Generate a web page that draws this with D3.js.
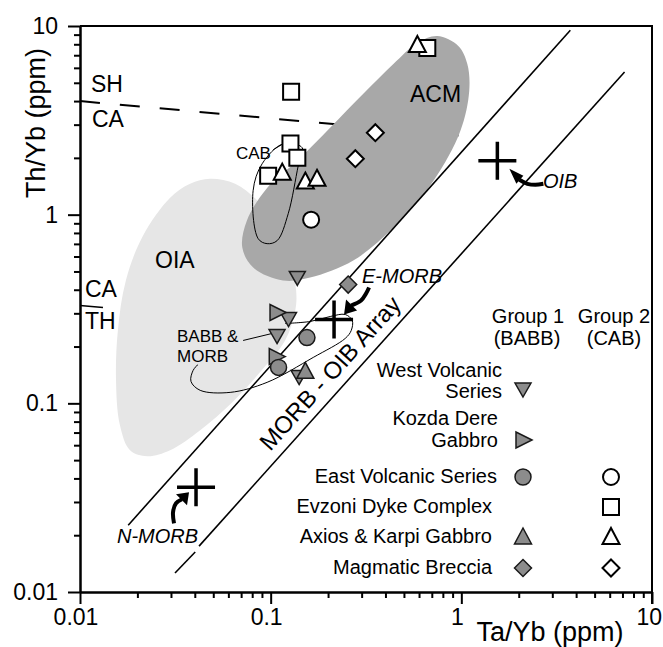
<!DOCTYPE html>
<html>
<head>
<meta charset="utf-8">
<script src="https://cdn.jsdelivr.net/npm/d3@7/dist/d3.min.js"></script>
<style>
body{margin:0;background:#fff;}
svg{display:block;font-family:"Liberation Sans",Arial,Helvetica,sans-serif;}
</style>
</head>
<body>
<svg id="chart" width="663" height="647"></svg>
<script>
// Th/Yb vs Ta/Yb discrimination plot
var xTicks = [0.01, 0.1, 1, 10],
    yTicks = [0.01, 0.1, 1, 10];

// Group 2 (CAB) - open symbols
var evzoniOpen = [[0.128,4.48],[0.127,2.38],[0.138,2.0],[0.097,1.61],[0.663,7.65]];
var axiosOpen = [[0.115,1.65],[0.152,1.48],[0.175,1.53],[0.588,7.84]];
var eastOpen = [[0.163,0.94]];
var brecciaOpen = [[0.354,2.72],[0.278,1.98]];

// Group 1 (BABB) - grey symbols
var westGrey = [[0.138,0.459],[0.124,0.278],[0.108,0.226],[0.141,0.137]];
var kozdaGrey = [[0.108,0.303],[0.107,0.177]];
var eastGrey = [[0.155,0.223],[0.110,0.155]];
var axiosGrey = [[0.152,0.146]];
var brecciaGrey = [[0.255,0.426]];

// reference compositions
var refNames = ["OIB","E-MORB","N-MORB"],
    refTaYb = [1.545, 0.215, 0.0406],
    refThYb = [1.93, 0.278, 0.0359];

// fields
var oiaField = [[0.0481,1.55],[0.0651,1.46],[0.0849,1.19],[0.1056,0.875],[0.124,0.607],[0.136,0.396],
  [0.1345,0.31],[0.119,0.215],[0.090,0.150],[0.0628,0.101],[0.0427,0.072],[0.0297,0.0564],[0.0225,0.0524],
  [0.0183,0.0564],[0.0162,0.0765],[0.01545,0.132],[0.0158,0.243],[0.0174,0.448],[0.0214,0.774],[0.0297,1.23],[0.0378,1.46]];
var acmField = [[0.748,8.85],[0.964,7.84],[1.075,6.29],[1.10,4.53],[0.988,2.78],[0.713,1.51],[0.44,0.854],
  [0.271,0.571],[0.161,0.464],[0.116,0.448],[0.081,0.525],[0.071,0.669],[0.075,0.929],[0.096,1.39],
  [0.138,1.93],[0.205,2.89],[0.306,4.37],[0.44,6.29],[0.588,8.13]];
var cabOutline = [[0.1163,2.375],[0.1464,2.262],[0.1395,1.817],[0.1236,1.012],[0.1082,0.729],[0.0958,0.702],
  [0.086,0.746],[0.0809,1.34],[0.0902,1.861]];
var cabLeader = [[0.1031,2.208],[0.1163,2.375]];
var babbOutline = [[0.1191,0.265],[0.1612,0.2716],[0.2053,0.2886],[0.246,0.2957],[0.2678,0.275],[0.2646,0.2434],
  [0.246,0.2208],[0.1672,0.1751],[0.0958,0.1292],[0.0613,0.1143],[0.0427,0.1172],[0.0382,0.1307],[0.0392,0.1495],[0.0416,0.1608]];
var babbLeader = [[0.0717,0.2154],[0.1018,0.2346]];

// lines
var morbUpper = [[0.0179,0.0226],[3.73,9.5]];
var morbLowerA = [[0.0315,0.0126],[0.0402,0.0163]];
var morbLowerB = [[0.0421,0.0175],[7.18,5.71]];
var shcaLine = [[0.01,4.0],[1.01,2.62]];
var cathLine = [[0.01,0.33],[0.0132,0.322]];

var svg = d3.select("#chart");
var x = d3.scaleLog().domain([0.01,10]).range([80,652]);
var y = d3.scaleLog().domain([0.01,10]).range([592,26]);

var line = d3.line().x(function(d){return x(d[0]);}).y(function(d){return y(d[1]);});
var blob = d3.line().x(function(d){return x(d[0]);}).y(function(d){return y(d[1]);})
  .curve(d3.curveCatmullRomClosed.alpha(0.5));
var curve = d3.line().x(function(d){return x(d[0]);}).y(function(d){return y(d[1]);})
  .curve(d3.curveCatmullRom.alpha(0.5));

// fields
svg.append("path").attr("d", blob(oiaField)).attr("fill", "#e6e6e6");
svg.append("path").attr("d", line(shcaLine)).attr("fill","none").attr("stroke","#000")
  .attr("stroke-width",2).attr("stroke-dasharray","20,20");
svg.append("path").attr("d", blob(acmField)).attr("fill", "#a8a8a8");
svg.append("path").attr("d", line(cathLine)).attr("fill","none").attr("stroke","#000").attr("stroke-width",1.5);

[morbUpper, morbLowerA, morbLowerB].forEach(function(l){
  svg.append("path").attr("d", line(l)).attr("fill","none").attr("stroke","#000").attr("stroke-width",1.6);
});

svg.append("path").attr("d", blob(cabOutline)).attr("fill","none").attr("stroke","#000").attr("stroke-width",1);
svg.append("path").attr("d", line(cabLeader)).attr("fill","none").attr("stroke","#000").attr("stroke-width",1);
svg.append("path").attr("d", curve(babbOutline)).attr("fill","none").attr("stroke","#000").attr("stroke-width",1);
svg.append("path").attr("d", line(babbLeader)).attr("fill","none").attr("stroke","#000").attr("stroke-width",1);

// reference crosses
refNames.forEach(function(n,i){
  var cx = x(refTaYb[i]), cy = y(refThYb[i]);
  svg.append("path").attr("d","M"+(cx-19)+","+cy+"H"+(cx+19)+"M"+cx+","+(cy-19)+"V"+(cy+19))
    .attr("stroke","#000").attr("stroke-width",3.5).attr("fill","none");
});

// curved arrows (offsets from each cross)
var arrowGeom = {
  "OIB":    {head:[[12,8],[26,15],[19,23]], tail:[[22,19],[30,23],[38,24],[46,23]]},
  "E-MORB": {head:[[10,-5],[12,-20],[23,-9]], tail:[[17,-14],[27,-19],[32,-26],[35,-32]]},
  "N-MORB": {head:[[-7,5],[-20,7],[-9,18]], tail:[[-14,12],[-20,16],[-23,25],[-22,36]]}
};
refNames.forEach(function(n,i){
  var cx = x(refTaYb[i]), cy = y(refThYb[i]), g = arrowGeom[n];
  var pts = function(a){return a.map(function(p){return [cx+p[0],cy+p[1]];});};
  svg.append("path").attr("d", d3.line().curve(d3.curveCatmullRom)(pts(g.tail)))
    .attr("fill","none").attr("stroke","#000").attr("stroke-width",4);
  svg.append("path").attr("d", "M"+pts(g.head).join("L")+"Z").attr("fill","#000");
});

// symbols
function sym(type){
  switch(type){
    case "square": return "M-8,-8H8V8H-8Z";
    case "circle": return "M8,0A8,8 0 1,1 -8,0A8,8 0 1,1 8,0Z";
    case "up": return "M0,-10L8.5,6L-8.5,6Z";
    case "down": return "M0,7L8,-7L-8,-7Z";
    case "right": return "M9,0L-7,-8L-7,8Z";
    case "diamond": return "M0,-8.5L8.5,0L0,8.5L-8.5,0Z";
  }
}
function drawPts(data, type, grey){
  svg.selectAll(null).data(data).enter().append("path")
    .attr("transform", function(d){return "translate("+x(d[0])+","+y(d[1])+")";})
    .attr("d", sym(type))
    .attr("fill", grey ? "#8c8c8c" : "#fff")
    .attr("stroke", grey ? "#1a1a1a" : "#000")
    .attr("stroke-width", grey ? 1.5 : 2);
}
drawPts(evzoniOpen, "square", false);
drawPts(axiosOpen, "up", false);
drawPts(eastOpen, "circle", false);
drawPts(brecciaOpen, "diamond", false);
drawPts(westGrey, "down", true);
drawPts(kozdaGrey, "right", true);
drawPts(eastGrey, "circle", true);
drawPts(axiosGrey, "up", true);
drawPts(brecciaGrey, "diamond", true);

// axes
var minor = [];
[0.01,0.1,1].forEach(function(d){ for (var k=2;k<10;k++) minor.push(d*k); });

svg.append("g").attr("transform","translate(0,592)")
  .call(d3.axisBottom(x).tickValues(xTicks).tickSize(12).tickSizeOuter(0).tickFormat(""));
svg.append("g").attr("transform","translate(0,592)")
  .call(d3.axisBottom(x).tickValues(minor).tickSize(6).tickSizeOuter(0).tickFormat(""));
svg.append("g").attr("transform","translate(80,0)")
  .call(d3.axisLeft(y).tickValues(yTicks).tickSize(12).tickSizeOuter(0).tickFormat(""));
svg.append("g").attr("transform","translate(80,0)")
  .call(d3.axisLeft(y).tickValues(minor).tickSize(6).tickSizeOuter(0).tickFormat(""));
svg.selectAll(".domain").attr("stroke-width",2);
svg.selectAll(".tick line").attr("stroke-width",2);

// frame top / right
svg.append("path").attr("d","M"+x(0.01)+","+y(10)+"H"+x(10)+"V"+(y(0.01)+12))
  .attr("fill","none").attr("stroke","#000").attr("stroke-width",2);

svg.selectAll(null).data(xTicks).enter().append("text")
  .attr("x", function(d){return d===10 ? 662 : x(d) - 4;})
  .attr("y", 625).attr("text-anchor", function(d){return d===10 ? "end" : "middle";})
  .attr("font-size",23)
  .text(function(d){return d3.format("")(d);});
svg.selectAll(null).data(yTicks).enter().append("text")
  .attr("x", 58).attr("y", function(d){return y(d);}).attr("dy","0.35em")
  .attr("text-anchor","end").attr("font-size",23)
  .text(function(d){return d3.format("")(d);});

svg.append("text").attr("x",550).attr("y",641).attr("text-anchor","middle")
  .attr("font-size",27).text("Ta/Yb (ppm)");
svg.append("text").attr("transform","translate(45,123) rotate(-90)").attr("text-anchor","middle")
  .attr("font-size",27).text("Th/Yb (ppm)");

// field labels
function label(t, px, py, size, italic, anchor){
  return svg.append("text").attr("x",px).attr("y",py).attr("font-size",size)
    .attr("font-style", italic ? "italic" : null).attr("text-anchor", anchor || "start").text(t);
}
label("SH", 91, 92, 23);
label("CA", 92, 127, 23);
label("CA", 85, 297, 23);
label("TH", 85, 329, 23);
label("OIA", 155, 268, 23);
label("ACM", 410, 102, 23);
label("CAB", 236, 159, 17);
label("BABB &", 177, 342, 17);
label("MORB", 177, 362, 17);
label("OIB", 543, 188, 20, true);
label("E-MORB", 362, 283, 20, true);
label("N-MORB", 117, 543, 20, true);
svg.append("text").attr("transform","translate(330,373) rotate(-48)").attr("text-anchor","middle")
  .attr("dy","0.35em").attr("font-size",24).text("MORB - OIB Array");

// legend
label("Group 1", 528, 323, 20, false, "middle");
label("(BABB)", 527, 345, 20, false, "middle");
label("Group 2", 614, 323, 20, false, "middle");
label("(CAB)", 614, 345, 20, false, "middle");

var legRows = [
  {t:["West Volcanic","Series"], tx:502, ty:[377,398], sy:390, g1:"down", g2:null},
  {t:["Kozda Dere","Gabbro"], tx:498, ty:[425,447], sy:440, g1:"right", g2:null},
  {t:["East Volcanic Series"], tx:497, ty:[483], sy:477, g1:"circle", g2:"circle"},
  {t:["Evzoni Dyke Complex"], tx:492, ty:[513], sy:507, g1:null, g2:"square"},
  {t:["Axios & Karpi Gabbro"], tx:492, ty:[543], sy:538, g1:"up", g2:"up"},
  {t:["Magmatic Breccia"], tx:492, ty:[574], sy:568, g1:"diamond", g2:"diamond"}
];
legRows.forEach(function(r){
  r.t.forEach(function(s,i){ label(s, r.tx, r.ty[i], 20, false, "end"); });
  if (r.g1) svg.append("path").attr("transform","translate(523,"+r.sy+")").attr("d",sym(r.g1))
    .attr("fill","#8c8c8c").attr("stroke","#1a1a1a").attr("stroke-width",1.5);
  if (r.g2) svg.append("path").attr("transform","translate(611,"+r.sy+")").attr("d",sym(r.g2))
    .attr("fill","#fff").attr("stroke","#000").attr("stroke-width",2);
});
</script>
</body>
</html>
